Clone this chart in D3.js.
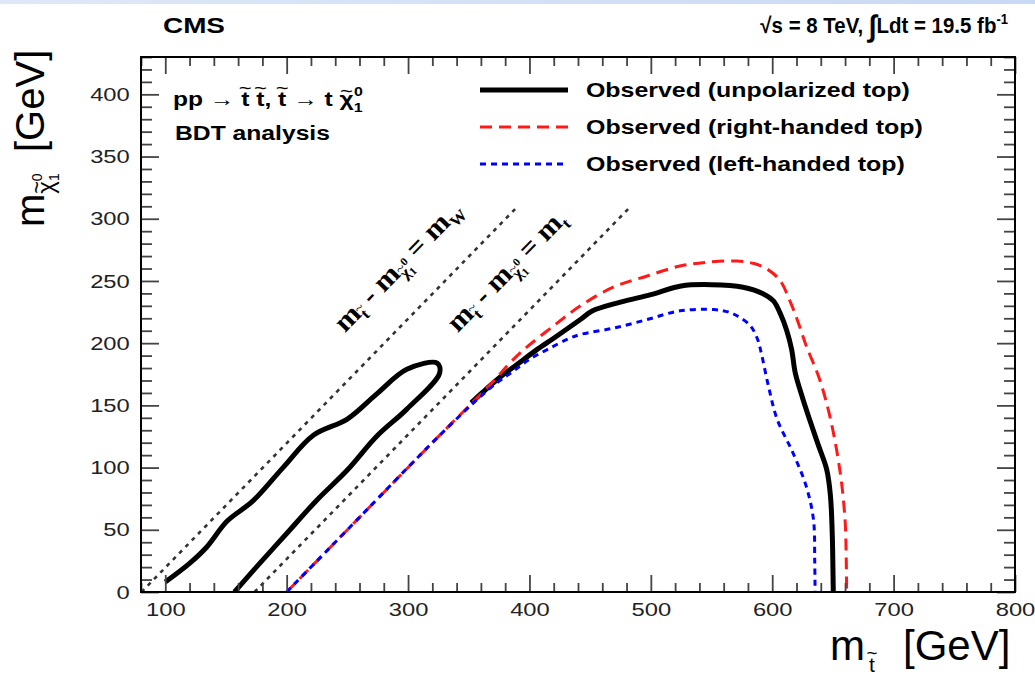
<!DOCTYPE html>
<html><head><meta charset="utf-8">
<script src="https://cdn.jsdelivr.net/npm/d3@7"></script>
<style>
body{margin:0;background:#fff}
svg{display:block}
text{font-family:"Liberation Sans",Arial,Helvetica,sans-serif}
</style>
</head><body>
<svg id="c" width="1035" height="676"></svg>
<script>
// ---------------- data ----------------
const xDomain = [80, 800];
const yDomain = [0, 430];
const xTickValues = [100, 200, 300, 400, 500, 600, 700, 800];
const yTickValues = [0, 50, 100, 150, 200, 250, 300, 350, 400];
const xMinorStep = 20;
const yMinorStep = 10;
const mW = 80.4;      // W mass
const mTop = 173.5;   // top mass
const diagEnds = [390, 484];   // stop-mass where each kinematic line ends

// observed exclusion contours [m_stop, m_LSP]
const unpolIsland = [[100,8],[120,23],[134,36],[151,57],[172,73],[197,100],[222,126],[250,139],[274,159],[299,179],[324,184],[326,176],[299,147],[274,125],[250,98],[225,74],[200,47],[175,20],[157,0]];
const unpolMain = [[352,152],[362,161],[375,172],[390,183],[405,194],[420,204],[442,219],[452,226],[475,233],[500,239],[525,246],[550,247],[576,245],[592,240],[601,234],[607,223],[612,210],[616,195],[619,176],[625,156],[631,138],[638,118],[645,98],[648,77],[649.5,45],[650,20],[650.3,0]];
const rightHanded = [[200,0],[260,60],[320,120],[362,161],[372,171],[380,180],[390,190],[398,197],[420,214],[442,230],[469,245],[497,254],[524,262],[546,265],[571,266],[585,264],[595,260],[606,251],[615,233],[622,215],[628,198],[639,171],[648,139],[656,96],[660,58],[661,25],[661.3,0]];
const leftHanded = [[200,0],[260,60],[320,120],[355,153],[373,168],[386,177],[400,187],[415,195],[431,203],[442,207],[469,212],[497,219],[524,226],[552,227],[564,225],[571,222],[582,214],[588,203],[591,192],[597,165],[604,139],[617,112],[628,85],[634,58],[635,25],[635.3,0]];
const legendLabels = ["Observed (unpolarized top)", "Observed (right-handed top)", "Observed (left-handed top)"];
const diagLabelAnchors = [[248, 208], [341, 208]];

// ---------------- setup ----------------
const W = 1035, H = 676;
const M = {left: 141, right: 1015, top: 57, bottom: 592};
const svg = d3.select("#c");
const x = d3.scaleLinear().domain(xDomain).range([M.left, M.right]);
const y = d3.scaleLinear().domain(yDomain).range([M.bottom, M.top]);

// top slide band
const defs = svg.append("defs");
const gr = defs.append("linearGradient").attr("id","band").attr("x1","0").attr("x2","1");
gr.append("stop").attr("offset","0").attr("stop-color","#dfe8f8");
gr.append("stop").attr("offset","1").attr("stop-color","#c9d8f4");
svg.append("rect").attr("x",0).attr("y",0).attr("width",W).attr("height",4).attr("fill","url(#band)");
defs.append("clipPath").attr("id","plot").append("rect")
  .attr("x",M.left).attr("y",M.top).attr("width",M.right-M.left).attr("height",M.bottom-M.top);

// ---------------- rich text helper ----------------
function richText(parent, o) {
  const g = parent.append("g");
  const fam = o.family || "'Liberation Sans',Arial,sans-serif";
  const t = g.append("text").attr("text-anchor", o.anchor || "start")
    .style("font-family", fam).style("font-weight", o.weight || "bold")
    .style("font-size", o.size + "px").attr("fill", o.fill || "#000");
  let idx = 0; const tildes = [];
  o.parts.forEach(p => {
    const s = t.append("tspan").text(p.t);
    if (p.size) s.style("font-size", p.size + "px");
    if (p.x !== undefined) s.attr("x", p.x);
    if (p.y !== undefined) s.attr("y", p.y);
    if (p.dx) s.attr("dx", p.dx);
    if (p.dy) s.attr("dy", p.dy);
    if (p.tilde) tildes.push({i: idx, size: p.size || o.size, k: p.tilde});
    idx += [...p.t].length;
  });
  let sx = 1;
  if (o.width) { const w = t.node().getBBox().width; sx = o.width / w; }
  g.attr("transform", `translate(${o.x},${o.y})` + (o.rotate ? ` rotate(${o.rotate})` : "") + ` scale(${sx},1)`);
  tildes.forEach(d => {
    const e = t.node().getExtentOfChar(d.i);
    const base = e.y + 0.9 * d.size;
    g.append("text").attr("text-anchor","middle")
      .attr("x", e.x + e.width / 2).attr("y", base - d.k * d.size)
      .style("font-family", fam).style("font-weight", "normal")
      .style("font-size", (d.size * 0.9) + "px").attr("fill", o.fill || "#000").text("~");
  });
  return g;
}

// ---------------- kinematic lines ----------------
const plot = svg.append("g").attr("clip-path","url(#plot)");
const line = d3.line().x(d => x(d[0])).y(d => y(d[1]));
[mW, mTop].forEach((dm, i) => {
  plot.append("path").datum([[dm, 0], [diagEnds[i], diagEnds[i] - dm]])
    .attr("d", line).attr("fill","none").attr("stroke","#333")
    .attr("stroke-width", 2.6).attr("stroke-dasharray","4,5");
});

// diagonal labels
const ang = Math.atan2(y(300) - y(0), x(mW + 300) - x(mW)) * 180 / Math.PI;
const serif = "'Liberation Serif','Times New Roman',serif";
const diagLabelParts = [
  [{t:"m"},{t:"t",size:16,dy:6,tilde:0.55},{t:" - ",size:28,dy:-6},{t:"m"},{t:"χ",size:16,dy:6,tilde:0.42},{t:"1",size:11,dy:3},{t:"0",size:11,dx:-5,dy:-13},{t:" = ",size:28,dy:4},{t:"m"},{t:"W",size:16,dy:6}],
  [{t:"m"},{t:"t",size:16,dy:6,tilde:0.55},{t:" - ",size:28,dy:-6},{t:"m"},{t:"χ",size:16,dy:6,tilde:0.42},{t:"1",size:11,dy:3},{t:"0",size:11,dx:-5,dy:-13},{t:" = ",size:28,dy:4},{t:"m"},{t:"t",size:16,dy:6}]
];
const diagWidths = [170, 158];
diagLabelAnchors.forEach((a, i) => {
  richText(svg, {x: x(a[0]), y: y(a[1]), rotate: ang, size: 28, family: serif,
    width: diagWidths[i], parts: diagLabelParts[i]});
});

// ---------------- contours ----------------
const curve = d3.line().x(d => x(d[0])).y(d => y(d[1])).curve(d3.curveCatmullRom.alpha(0.5));
plot.append("path").datum(unpolIsland).attr("d", curve).attr("fill","none")
  .attr("stroke","#000").attr("stroke-width",5).attr("stroke-linejoin","round");
plot.append("path").datum(unpolMain).attr("d", curve).attr("fill","none")
  .attr("stroke","#000").attr("stroke-width",5).attr("stroke-linejoin","round");
plot.append("path").datum(rightHanded).attr("d", curve).attr("fill","none")
  .attr("stroke","#ff1a1a").attr("stroke-width",3).attr("stroke-dasharray","12,7");
plot.append("path").datum(leftHanded).attr("d", curve).attr("fill","none")
  .attr("stroke","#0000ff").attr("stroke-width",3).attr("stroke-dasharray","6,5");

// ---------------- axes ----------------
const tickCol = "#444";
const xMinor = d3.range(xDomain[0], xDomain[1] + 1, xMinorStep).filter(v => !xTickValues.includes(v));
const yMinor = d3.range(yDomain[0], yDomain[1] + 1, yMinorStep).filter(v => !yTickValues.includes(v));
function styleAxis(g) {
  g.select(".domain").remove();
  g.selectAll("line").attr("stroke", tickCol).attr("stroke-width", 1.8);
  g.selectAll("text").style("font-size","19px").style("font-family","'Liberation Sans',Arial,sans-serif")
    .attr("fill","#222").attr("transform","scale(1.25,1)");
}
svg.append("g").attr("transform",`translate(0,${M.bottom})`)
  .call(d3.axisBottom(x).tickValues(xTickValues).tickSize(-17).tickPadding(11).tickFormat(d3.format("d"))).call(styleAxis);
svg.append("g").attr("transform",`translate(0,${M.bottom})`)
  .call(d3.axisBottom(x).tickValues(xMinor).tickSize(-9).tickFormat("")).call(styleAxis);
svg.append("g").attr("transform",`translate(0,${M.top})`)
  .call(d3.axisTop(x).tickValues(xTickValues).tickSize(-17).tickFormat("")).call(styleAxis);
svg.append("g").attr("transform",`translate(0,${M.top})`)
  .call(d3.axisTop(x).tickValues(xMinor).tickSize(-9).tickFormat("")).call(styleAxis);
svg.append("g").attr("transform",`translate(${M.left},0)`)
  .call(d3.axisLeft(y).tickValues(yTickValues).tickSize(-18).tickPadding(9).tickFormat(d3.format("d"))).call(styleAxis);
svg.append("g").attr("transform",`translate(${M.left},0)`)
  .call(d3.axisLeft(y).tickValues(yMinor).tickSize(-11).tickFormat("")).call(styleAxis);
svg.append("g").attr("transform",`translate(${M.right},0)`)
  .call(d3.axisRight(y).tickValues(yTickValues).tickSize(-18).tickFormat("")).call(styleAxis);
svg.append("g").attr("transform",`translate(${M.right},0)`)
  .call(d3.axisRight(y).tickValues(yMinor).tickSize(-11).tickFormat("")).call(styleAxis);

svg.append("rect").attr("x",M.left).attr("y",M.top).attr("width",M.right-M.left).attr("height",M.bottom-M.top)
  .attr("fill","none").attr("stroke","#000").attr("stroke-width",2);

// ---------------- axis titles ----------------
richText(svg, {x: 830, y: 660, size: 42, weight: "normal",
  parts: [{t:"m"},{t:"t",size:21,dx:4,dy:12,tilde:0.6},{t:"[GeV]",x:73,y:0,size:42}]});
richText(svg, {x: 44, y: 227, rotate: -90, size: 40, weight: "normal",
  parts: [{t:"m"},{t:"χ",size:24,dy:10,tilde:0.42},{t:"1",size:14,dy:5},{t:"0",size:14,dx:-8,dy:-17},{t:"[GeV]",x:75,y:0,size:40}]});

// ---------------- header ----------------
richText(svg, {x: 163, y: 33, size: 22, width: 62, parts: [{t:"CMS"}]});
richText(svg, {x: 1008, y: 33, size: 22, width: 248, anchor: "end",
  parts: [{t:"√s = 8 TeV, "},{t:"∫",size:30,dy:3},{t:"Ldt = 19.5 fb",size:22,dy:-3},{t:"-1",size:14,dy:-9}]});

// ---------------- process label ----------------
richText(svg, {x: 173, y: 106, size: 20, width: 190,
  parts: [{t:"pp → "},{t:"t",tilde:0.62},{t:" "},{t:"t",tilde:0.62},{t:", "},{t:"t",tilde:0.62},{t:" → t "},
          {t:"χ",tilde:0.45},{t:"1",size:13,dy:6},{t:"0",size:13,dx:-7,dy:-16}]});
richText(svg, {x: 175, y: 140, size: 20, width: 155, parts: [{t:"BDT analysis"}]});

// ---------------- legend ----------------
const legStyles = [
  {stroke:"#000", w:5, dash:null},
  {stroke:"#ff1a1a", w:3, dash:"12,7"},
  {stroke:"#0000ff", w:3, dash:"6,5"}
];
const legWidths = [324, 337, 319];
const legY = [90, 127, 164];
legendLabels.forEach((lab, i) => {
  const l = svg.append("line").attr("x1",480).attr("x2",568).attr("y1",legY[i]).attr("y2",legY[i])
    .attr("stroke",legStyles[i].stroke).attr("stroke-width",legStyles[i].w);
  if (legStyles[i].dash) l.attr("stroke-dasharray", legStyles[i].dash);
  richText(svg, {x: 586, y: legY[i] + 7, size: 20, width: legWidths[i], parts: [{t: lab}]});
});
</script>
</body></html>
